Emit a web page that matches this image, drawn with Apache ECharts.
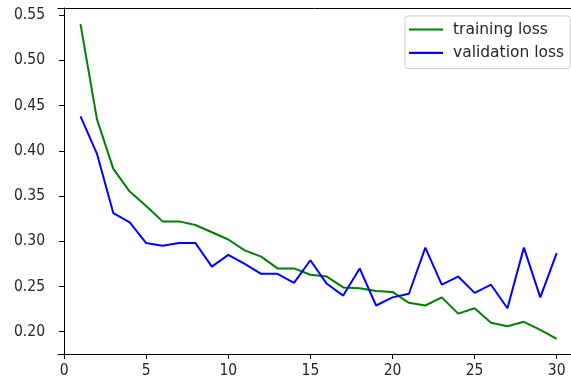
<!DOCTYPE html>
<html>
<head>
<meta charset="utf-8">
<script src="https://cdn.jsdelivr.net/npm/echarts@6/dist/echarts.min.js"></script>
<style>
html,body{margin:0;padding:0;background:#fff;}
#chart{width:571px;height:383px;}
</style>
</head>
<body>
<div id="chart"></div>
<script>
const epochs = [1,2,3,4,5,6,7,8,9,10,11,12,13,14,15,16,17,18,19,20,21,22,23,24,25,26,27,28,29,30];
const trainingLoss = [0.540,0.435,0.380,0.355,0.339,0.322,0.322,0.318,0.310,0.302,0.290,0.283,0.270,0.270,0.263,0.261,0.249,0.248,0.245,0.244,0.232,0.229,0.238,0.220,0.226,0.210,0.206,0.211,0.202,0.192];
const validationLoss = [0.438,0.397,0.331,0.321,0.298,0.295,0.298,0.298,0.272,0.285,0.275,0.264,0.264,0.254,0.279,0.253,0.240,0.270,0.229,0.238,0.242,0.293,0.252,0.261,0.243,0.252,0.226,0.293,0.238,0.287];
const xTicks = [0,5,10,15,20,25,30];
const yTicks = [0.20,0.25,0.30,0.35,0.40,0.45,0.50,0.55];
const seriesNames = ['training loss','validation loss'];

const chart = echarts.init(document.getElementById('chart'), null, {renderer:'canvas'});
const tickFont = '"DejaVu Sans Condensed", "DejaVu Sans"';
const font = 'DejaVu Sans';
const txt = '#262626';
chart.setOption({
  animation:false,
  backgroundColor:'#fff',
  grid:{left:58, right:0, top:8, bottom:29, show:false},
  legend:{
    orient:'vertical', left:405, top:16,
    padding:[5,6,7,4],
    backgroundColor:'rgba(255,255,255,0.8)', borderColor:'#cccccc', borderWidth:1, borderRadius:3,
    itemWidth:34, itemHeight:2.2, itemGap:6.4, icon:'rect',
    textStyle:{fontFamily:font, fontSize:15.5, color:txt, lineHeight:17, padding:[0,0,0,5]},
    data:seriesNames
  },
  xAxis:[{
    type:'value', min:-0.37, max:30.87,
    axisLine:{show:true, lineStyle:{color:'#000', width:1}},
    splitLine:{show:false},
    axisTick:{show:true, length:5, lineStyle:{color:'#000'}, customValues:xTicks},
    axisLabel:{fontFamily:tickFont, fontSize:15.5, color:txt, margin:9, customValues:xTicks, formatter:v=>String(v)}
  },{
    type:'value', position:'top', min:-0.37, max:30.87,
    axisLine:{show:true, onZero:false, lineStyle:{color:'#000', width:1}},
    axisTick:{show:false}, axisLabel:{show:false}, splitLine:{show:false}
  }],
  yAxis:{
    type:'value', min:0.1754, max:0.5579,
    axisLine:{show:true, lineStyle:{color:'#000', width:1}},
    splitLine:{show:false},
    axisTick:{show:true, length:5, lineStyle:{color:'#000'}, customValues:yTicks},
    axisLabel:{fontFamily:tickFont, fontSize:15.5, color:txt, margin:13, customValues:yTicks, formatter:v=>v.toFixed(2)}
  },
  series:[
    {name:seriesNames[0], type:'line', xAxisIndex:0, data:epochs.map((e,i)=>[e,trainingLoss[i]]), showSymbol:false, symbol:'none',
     lineStyle:{color:'#008000', width:2}, itemStyle:{color:'#008000'}},
    {name:seriesNames[1], type:'line', xAxisIndex:0, data:epochs.map((e,i)=>[e,validationLoss[i]]), showSymbol:false, symbol:'none',
     lineStyle:{color:'#0000ff', width:2}, itemStyle:{color:'#0000ff'}}
  ]
});
</script>
</body>
</html>
